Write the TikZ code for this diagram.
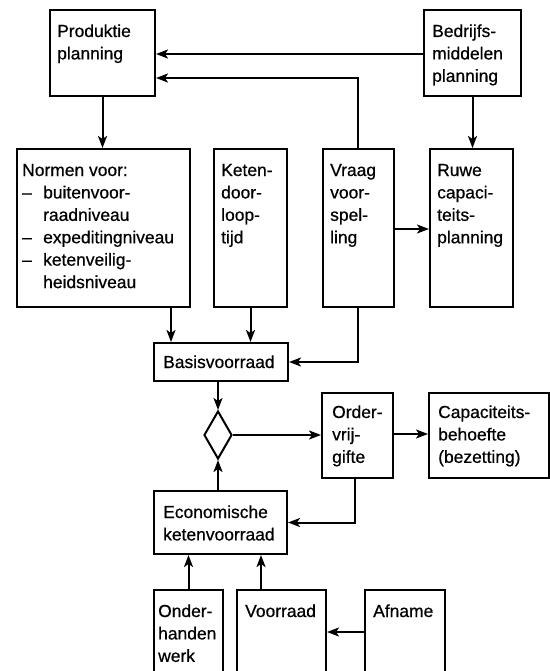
\documentclass[tikz,border=0pt]{standalone}
\usepackage{fontspec}
\setmainfont{Liberation Sans}
\newfontfamily\dgfont{Liberation Sans}[FakeBold=0.6]
\usetikzlibrary{shapes.geometric,arrows.meta,calc}
\newcommand\lns[1]{\begin{tabular}[t]{@{}l@{}}#1\end{tabular}}
\newcommand\dd{\makebox[21bp][l]{–}}
\newcommand\ind{\hspace*{21bp}}
\begin{document}
\begin{tikzpicture}[x=1bp,y=-1bp,
  box/.style={draw,line width=2bp,inner sep=0pt,anchor=north west},
  txt/.style={inner sep=0pt,anchor=base west,font=\dgfont\fontsize{17.5}{22.5}\selectfont},
  arr/.style={line width=2bp,-{Stealth[length=12bp,width=9bp,inset=3bp]}}]
\clip (0,0) rectangle (550,671);
% boxes
\node[box,minimum width=105bp,minimum height=86bp] (pp) at (49,9) {};
\node[box,minimum width=97bp,minimum height=86bp] (bm) at (423,9) {};
\node[box,minimum width=173bp,minimum height=158bp] (nv) at (16,148) {};
\node[box,minimum width=73bp,minimum height=158bp] (kd) at (213,148) {};
\node[box,minimum width=71bp,minimum height=158bp] (vv) at (322,148) {};
\node[box,minimum width=83bp,minimum height=158bp] (rc) at (429,148) {};
\node[box,minimum width=134bp,minimum height=38bp] (bv) at (153,342) {};
\node[draw,line width=2bp,diamond,inner sep=0pt,minimum width=28bp,minimum height=48bp] (dia) at (218,435) {};
\node[box,minimum width=71bp,minimum height=85bp] (ov) at (321,392) {};
\node[box,minimum width=120bp,minimum height=85bp] (cb) at (428,392) {};
\node[box,minimum width=133bp,minimum height=63bp] (ek) at (153,490) {};
\node[box,minimum width=69bp,minimum height=110bp] (oh) at (153,589) {};
\node[box,minimum width=89bp,minimum height=110bp] (vr) at (236,589) {};
\node[box,minimum width=80bp,minimum height=110bp] (af) at (364,589) {};
% texts
\node[txt] (tpp) at ($(pp.north west)+(8,28)$) {\lns{Produktie\\planning}};
\node[txt] (tbm) at ($(bm.north west)+(9,28)$) {\lns{Bedrijfs-\\middelen\\planning}};
\node[txt] (tnv) at ($(nv.north west)+(6,28)$) {\lns{Normen voor:\\\dd buitenvoor-\\\ind raadniveau\\\dd expeditingniveau\\\dd ketenveilig-\\\ind heidsniveau}};
\node[txt] (tkd) at ($(kd.north west)+(8,28)$) {\lns{Keten-\\door-\\loop-\\tijd}};
\node[txt] (tvv) at ($(vv.north west)+(8,28)$) {\lns{Vraag\\voor-\\spel-\\ling}};
\node[txt] (trc) at ($(rc.north west)+(8,28)$) {\lns{Ruwe\\capaci-\\teits-\\planning}};
\node[txt] (tbv) at ($(bv.north west)+(10,26)$) {Basisvoorraad};
\node[txt] (tov) at ($(ov.north west)+(11,26)$) {\lns{Order-\\vrij-\\gifte}};
\node[txt] (tcb) at ($(cb.north west)+(10,26)$) {\lns{Capaciteits-\\behoefte\\(bezetting)}};
\node[txt] (tek) at ($(ek.north west)+(10,28)$) {\lns{Economische\\ketenvoorraad}};
\node[txt] (toh) at ($(oh.north west)+(5,28)$) {\lns{Onder-\\handen\\werk}};
\node[txt] (tvr) at ($(vr.north west)+(9,28)$) {Voorraad};
\node[txt] (taf) at ($(af.north west)+(9,28)$) {Afname};
% connectors
\draw[arr] ($(bm.north west)+(0,45)$) -- ($(pp.north east)+(0,45)$);
\draw[arr] ($(vv.north west)+(36,0)$) |- ($(pp.north east)+(0,69)$);
\draw[arr] (pp.south) -- (pp.south |- nv.north);
\draw[arr] (bm.south) -- (bm.south |- rc.north);
\draw[arr] ($(vv.north east)+(0,81)$) -- ($(rc.north west)+(0,81)$);
\draw[arr] ($(vv.south west)+(36,0)$) |- (bv.east);
\draw[arr] ($(nv.south west)+(155,0)$) -- ($(bv.north west)+(18,0)$);
\draw[arr] (kd.south) -- (kd.south |- bv.north);
\draw[arr] (bv.south -| dia.north) -- (dia.north);
\draw[arr] (dia.east) -- (dia.east -| ov.west);
\draw[arr] ($(ov.north east)+(0,42)$) -- ($(cb.north west)+(0,42)$);
\draw[arr] ($(ov.south west)+(34,0)$) |- (ek.east);
\draw[arr] (ek.north -| dia.south) -- (dia.south);
\draw[arr] (oh.north) -- (oh.north |- ek.south);
\draw[arr] ($(vr.north west)+(25,0)$) -- ($(ek.south west)+(108,0)$);
\draw[arr] ($(af.north west)+(0,43)$) -- ($(vr.north east)+(0,43)$);
\end{tikzpicture}
\end{document}
